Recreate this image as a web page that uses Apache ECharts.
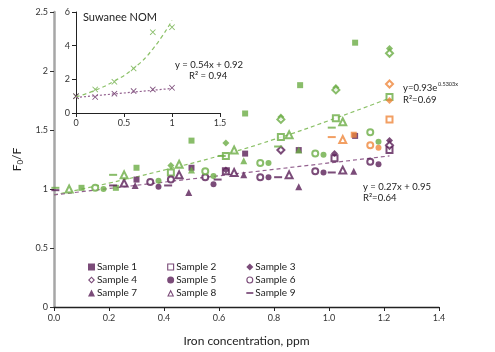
<!DOCTYPE html>
<html lang="en">
<head>
    <meta charset="utf-8">
    <title>F0/F vs iron concentration</title>
    <script src="https://cdn.jsdelivr.net/npm/echarts@6/dist/echarts.min.js"></script>
    <style>
        html, body { margin: 0; padding: 0; background: #fff; }
        #chart { width: 495px; height: 352px; }
    </style>
</head>
<body>
<div id="chart"></div>
<script type="text/javascript">
    // x ticks / y ticks of main chart
    var xTicks = [0, 0.2, 0.4, 0.6, 0.8, 1.0, 1.2, 1.4];
    var yTicks = [0, 0.5, 1, 1.5, 2, 2.5];

    // points: [iron ppm, F0/F, group]  (P = purple, G = green, O = orange)
    var sample1 = [[0.10, 1.01, 'G'], [0.225, 1.01, 'G'], [0.30, 1.18, 'G'], [0.50, 1.41, 'G'], [0.695, 1.64, 'G'], [0.895, 1.88, 'G'], [1.095, 2.24, 'G'],
        [0.30, 1.08, 'P'], [0.50, 1.18, 'P'], [0.695, 1.30, 'P'], [0.89, 1.33, 'P'], [1.095, 1.45, 'P'], [1.09, 1.46, 'O']];
    var sample2 = [[0.425, 1.14, 'G'], [0.625, 1.28, 'G'], [0.825, 1.44, 'G'], [1.025, 1.60, 'G'], [1.22, 1.78, 'G'],
        [0.625, 1.15, 'P'], [1.02, 1.26, 'P'], [1.22, 1.33, 'P'], [1.22, 1.59, 'O']];
    var sample3 = [[0.425, 1.20, 'G'], [0.625, 1.39, 'G'], [0.825, 1.61, 'G'], [1.025, 1.86, 'G'], [1.22, 2.19, 'G'],
        [0.625, 1.16, 'P'], [1.02, 1.30, 'P'], [1.22, 1.41, 'P'], [1.22, 1.75, 'O']];
    var sample4 = [[0.825, 1.59, 'G'], [1.025, 1.84, 'G'], [1.22, 2.15, 'G'],
        [0.825, 1.33, 'P'], [1.22, 1.37, 'P'], [1.22, 1.89, 'O']];
    var sample5 = [[0.18, 1.00, 'G'], [0.38, 1.07, 'G'], [0.58, 1.11, 'G'], [0.78, 1.22, 'G'], [0.98, 1.29, 'G'], [1.18, 1.40, 'G'],
        [0.38, 1.02, 'P'], [0.58, 1.04, 'P'], [0.78, 1.10, 'P'], [0.98, 1.14, 'P'], [1.18, 1.21, 'P'], [1.18, 1.35, 'O']];
    var sample6 = [[0.15, 1.01, 'G'], [0.55, 1.15, 'G'], [0.75, 1.22, 'G'], [0.95, 1.30, 'G'], [1.15, 1.48, 'G'],
        [0.35, 1.06, 'P'], [0.425, 1.08, 'P'], [0.55, 1.10, 'P'], [0.75, 1.10, 'P'], [0.95, 1.15, 'P'], [1.15, 1.23, 'P'], [1.15, 1.37, 'O']];
    var sample7 = [[0.50, 1.16, 'G'], [0.69, 1.24, 'G'], [0.89, 1.33, 'G'],
        [0.295, 1.03, 'P'], [0.49, 0.97, 'P'], [0.69, 1.12, 'P'], [0.89, 1.02, 'P'], [1.09, 1.15, 'P']];
    var sample8 = [[0.055, 1.00, 'G'], [0.255, 1.12, 'G'], [0.455, 1.21, 'G'], [0.655, 1.33, 'G'], [0.855, 1.46, 'G'], [1.05, 1.57, 'G'],
        [0.255, 1.05, 'P'], [0.455, 1.12, 'P'], [0.655, 1.14, 'P'], [0.855, 1.12, 'P'], [1.05, 1.16, 'P'], [1.05, 1.42, 'O']];
    var sample9 = [[0.005, 1.01, 'G'], [0.215, 1.12, 'G'], [0.61, 1.28, 'G'], [0.815, 1.36, 'G'], [1.01, 1.52, 'G'],
        [0.005, 0.99, 'P'], [0.215, 1.03, 'P'], [0.415, 1.03, 'P'], [0.595, 1.08, 'P'], [0.815, 1.10, 'P'], [1.01, 1.14, 'P'], [1.01, 1.44, 'O']];

    // trendlines
    var trendGreen = [[0, 0.95], [0.2, 1.05], [0.4, 1.16], [0.6, 1.28], [0.8, 1.42], [1.0, 1.58], [1.22, 1.77]];
    var trendPurple = [[0, 0.95], [1.22, 1.28]];

    // inset: Suwanee NOM
    var insetGreen = [[0, 1.0], [0.2, 1.4], [0.4, 1.85], [0.6, 2.65], [0.8, 4.8], [1.0, 5.1]];
    var insetPurple = [[0, 1.0], [0.2, 0.95], [0.4, 1.15], [0.6, 1.3], [0.8, 1.4], [1.0, 1.5]];
    var insetTrendGreen = [[0, 0.95], [0.2, 1.35], [0.4, 1.9], [0.6, 2.65], [0.8, 3.8], [1.0, 5.5]];
    var insetTrendPurple = [[0, 0.92], [1.0, 1.46]];

    var PURPLE = '#5a1f58', GREEN = '#6bad45', ORANGE = '#ef873c';
    var groupColor = {P: PURPLE, G: GREEN, O: ORANGE};
    var FONT = 'Lato';
    var crossPath = 'path://M0,1L1,0L5,4L9,0L10,1L6,5L10,9L9,10L5,6L1,10L0,9L4,5Z';
    var dashPath = 'path://M0,0h10v2.5h-10z';
    // hollow icons for the legend (outer ring, inner hole drawn the other way round)
    var hollowIcon = {
        emptyRect: 'path://M0,0h10v10h-10zM1.6,1.6v6.8h6.8v-6.8z',
        emptyDiamond: 'path://M5,0L10,5L5,10L0,5ZM5,2.3L2.3,5L5,7.7L7.7,5Z',
        emptyCircle: 'path://M5,0A5,5,0,1,1,5,10A5,5,0,1,1,5,0ZM5,1.6A3.4,3.4,0,1,0,5,8.4A3.4,3.4,0,1,0,5,1.6Z',
        emptyTriangle: 'path://M5,0L10,10L0,10ZM5,3.4L2.4,8.6L7.6,8.6Z'
    };

    var sampleDefs = [
        {name: 'Sample 1', data: sample1, symbol: 'rect', size: 6},
        {name: 'Sample 2', data: sample2, symbol: 'emptyRect', size: 6},
        {name: 'Sample 3', data: sample3, symbol: 'diamond', size: 7},
        {name: 'Sample 4', data: sample4, symbol: 'emptyDiamond', size: 7},
        {name: 'Sample 5', data: sample5, symbol: 'circle', size: 6},
        {name: 'Sample 6', data: sample6, symbol: 'emptyCircle', size: 6},
        {name: 'Sample 7', data: sample7, symbol: 'triangle', size: 7},
        {name: 'Sample 8', data: sample8, symbol: 'emptyTriangle', size: 7},
        {name: 'Sample 9', data: sample9, symbol: dashPath, size: [8, 2]}
    ];

    var series = [];
    sampleDefs.forEach(function (s) {
        ['P', 'G', 'O'].forEach(function (g) {
            var pts = s.data.filter(function (d) { return d[2] === g; });
            if (!pts.length) return;
            var empty = s.symbol.indexOf('empty') === 0;
            series.push({
                name: s.name,
                type: 'scatter',
                xAxisIndex: 0, yAxisIndex: 0,
                symbol: s.symbol,
                symbolSize: s.size,
                itemStyle: empty ? {color: groupColor[g], borderWidth: 1} : {color: groupColor[g]},
                data: pts.map(function (d) { return [d[0], d[1]]; }),
                z: 3
            });
        });
    });

    series.push({
        type: 'line', xAxisIndex: 0, yAxisIndex: 0, data: trendGreen, smooth: true,
        showSymbol: false, lineStyle: {color: '#8cc168', width: 1.2, type: [4, 3]}, z: 2, silent: true
    });
    series.push({
        type: 'line', xAxisIndex: 0, yAxisIndex: 0, data: trendPurple,
        showSymbol: false, lineStyle: {color: '#93618f', width: 1.2, type: [4, 3]}, z: 2, silent: true
    });
    series.push({
        type: 'line', xAxisIndex: 1, yAxisIndex: 1, data: insetTrendGreen, smooth: true,
        showSymbol: false, lineStyle: {color: '#8cc168', width: 1.2, type: [4, 3]}, silent: true
    });
    series.push({
        type: 'line', xAxisIndex: 1, yAxisIndex: 1, data: insetTrendPurple,
        showSymbol: false, lineStyle: {color: '#93618f', width: 1.2, type: [2, 2]}, silent: true
    });
    series.push({
        type: 'scatter', xAxisIndex: 1, yAxisIndex: 1, data: insetGreen,
        symbol: crossPath, symbolSize: 6, itemStyle: {color: GREEN}
    });
    series.push({
        type: 'scatter', xAxisIndex: 1, yAxisIndex: 1, data: insetPurple,
        symbol: crossPath, symbolSize: 6, itemStyle: {color: PURPLE}
    });

    function legendRow(names, top) {
        return {
            left: 83, top: top, itemWidth: 7, itemHeight: 7, itemGap: 30,
            selectedMode: false,
            textStyle: {fontFamily: FONT, fontSize: 10, color: '#222', padding: [0, 0, 0, -3]},
            data: names.map(function (n) {
                var def = sampleDefs.filter(function (s) { return s.name === n; })[0];
                var icon = hollowIcon[def.symbol] || def.symbol;
                return {
                    name: n, icon: icon,
                    itemStyle: {color: PURPLE, borderWidth: 0}
                };
            })
        };
    }

    var myChart = echarts.init(document.getElementById('chart'));
    var option = {
        animation: false,
        backgroundColor: '#fff',
        textStyle: {fontFamily: FONT},
        grid: [
            {left: 54, right: 56, top: 12, bottom: 44},
            {left: 76, top: 12, width: 144, height: 101}
        ],
        legend: [
            legendRow(['Sample 1', 'Sample 2', 'Sample 3'], 257),
            legendRow(['Sample 4', 'Sample 5', 'Sample 6'], 270),
            legendRow(['Sample 7', 'Sample 8', 'Sample 9'], 283)
        ],
        xAxis: [{
            gridIndex: 0, type: 'value', min: xTicks[0], max: xTicks[xTicks.length - 1], interval: 0.2,
            name: 'Iron concentration, ppm', nameLocation: 'middle', nameGap: 28,
            nameTextStyle: {fontFamily: FONT, fontSize: 12, color: '#222'},
            axisLine: {lineStyle: {color: '#222', width: 1.3}},
            axisTick: {show: true, length: 4, lineStyle: {color: '#222'}},
            axisLabel: {fontSize: 9, color: '#333', margin: 7, formatter: function (v) { return v.toFixed(1); }},
            splitLine: {show: false}
        }, {
            gridIndex: 1, type: 'value', min: 0, max: 1.5, interval: 0.5,
            axisLine: {lineStyle: {color: '#222', width: 1}},
            axisTick: {show: true, length: 4, lineStyle: {color: '#222'}},
            axisLabel: {fontSize: 9, color: '#333', margin: 6},
            splitLine: {show: false}
        }],
        yAxis: [{
            gridIndex: 0, type: 'value', min: yTicks[0], max: yTicks[yTicks.length - 1], interval: 0.5,
            name: '{a|F}{s|0}{a|/F}', nameLocation: 'middle', nameGap: 24, nameRotate: 90,
            nameTextStyle: {rich: {a: {fontFamily: FONT, fontSize: 12, color: '#222'}, s: {fontFamily: FONT, fontSize: 8, color: '#222', verticalAlign: 'bottom', padding: [6, 0, 0, 0]}}},
            axisLine: {show: true, lineStyle: {color: '#a6a6a6', width: 2.5}},
            axisTick: {show: true, length: 4, lineStyle: {color: '#333'}},
            axisLabel: {fontSize: 9, color: '#333', margin: 6},
            splitLine: {show: false}
        }, {
            gridIndex: 1, type: 'value', min: 0, max: 6, interval: 2,
            axisLine: {show: true, lineStyle: {color: '#222', width: 1}},
            axisTick: {show: true, length: 4, lineStyle: {color: '#222'}},
            axisLabel: {fontSize: 9, color: '#333', margin: 6},
            splitLine: {show: false}
        }],
        graphic: [
            {type: 'text', left: 83, top: 12, style: {text: 'Suwanee NOM', font: '11px ' + FONT, fill: '#222'}},
            {type: 'text', left: 175, top: 60, style: {text: 'y = 0.54x + 0.92', font: '9.5px ' + FONT, fill: '#222'}},
            {type: 'text', left: 189, top: 71, style: {text: 'R\u00b2 = 0.94', font: '9.5px ' + FONT, fill: '#222'}},
            {type: 'text', left: 403, top: 83, style: {text: 'y=0.93e', font: '9.5px ' + FONT, fill: '#222'}},
            {type: 'text', left: 438, top: 81, style: {text: '0.5303x', font: '5.5px ' + FONT, fill: '#222'}},
            {type: 'text', left: 403, top: 95, style: {text: 'R\u00b2=0.69', font: '9.5px ' + FONT, fill: '#222'}},
            {type: 'text', left: 363, top: 182, style: {text: 'y = 0.27x + 0.95', font: '9.5px ' + FONT, fill: '#222'}},
            {type: 'text', left: 363, top: 193, style: {text: 'R\u00b2=0.64', font: '9.5px ' + FONT, fill: '#222'}}
        ],
        series: series
    };
    myChart.setOption(option);
</script>
</body>
</html>
